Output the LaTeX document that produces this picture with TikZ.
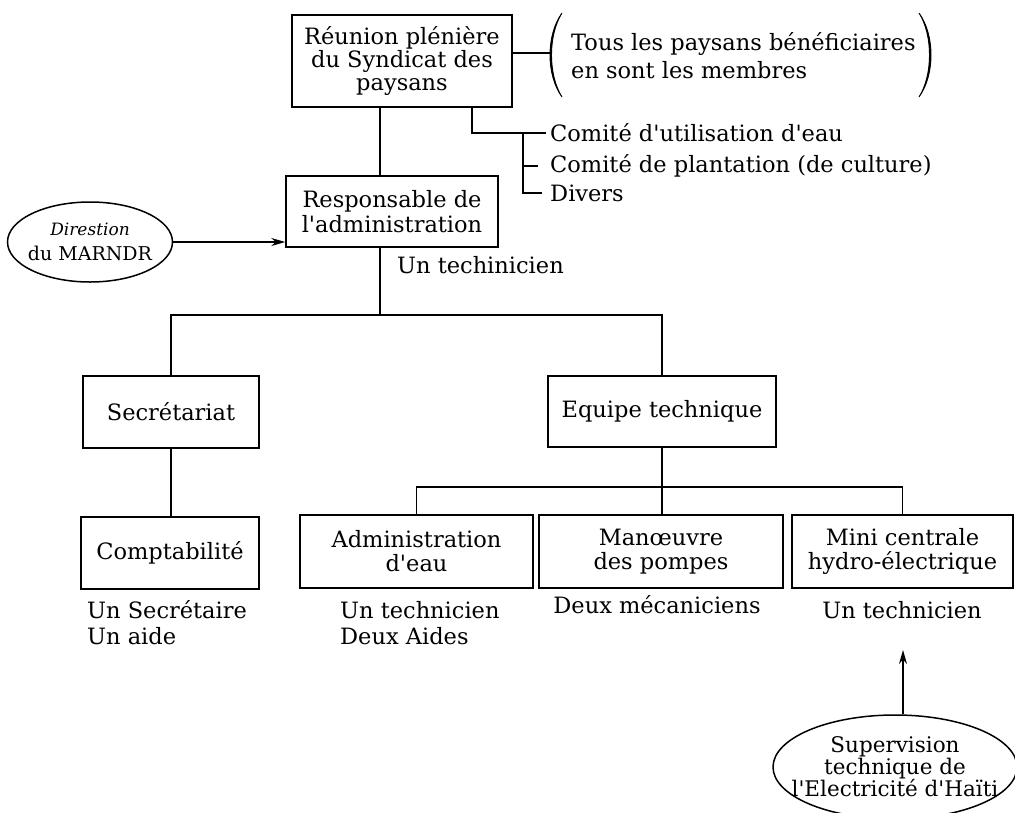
\documentclass[tikz,border=0pt]{standalone}
\usepackage{fontspec}
\setmainfont{DejaVu Serif}[Ligatures=TeXOff]
\usetikzlibrary{shapes.geometric,arrows.meta}
\begin{document}
\begin{tikzpicture}[x=1pt,y=-1pt,
  font=\fontsize{22.5}{23}\selectfont,
  box/.style={draw,line width=1.5pt,inner sep=0pt,align=center},
  ln/.style={line width=1.4pt},
  arr/.style={line width=1.4pt,-{Stealth[length=14pt,width=8pt]}},
  lbl/.style={inner sep=0pt,align=left},
  oval/.style={draw,ellipse,line width=1.5pt,inner ysep=0pt,align=center},
  paren/.style={fill,line width=0.9pt}]
\useasboundingbox (0,0) rectangle (1015,812);
% boxes
\node[box,minimum width=220pt,minimum height=92pt] (top) at (402,61) {Réunion plénière\\du Syndicat des\\paysans};
\node[box,minimum width=212pt,minimum height=71pt,font=\fontsize{22.5}{25}\selectfont] (resp) at (392,211.5) {Responsable de\\l'administration};
\node[box,minimum width=176pt,minimum height=72pt] (secr) at (171,412) {Secrétariat};
\node[box,minimum width=178pt,minimum height=72pt] (compt) at (170,553) {Comptabilité};
\node[box,minimum width=228pt,minimum height=71pt] (equipe) at (662,411.5) {Equipe technique};
\node[box,minimum width=233pt,minimum height=73pt,font=\fontsize{22.5}{24}\selectfont] (admin) at (416.5,551.5) {Administration\\d'eau};
\node[box,minimum width=244pt,minimum height=73pt,font=\fontsize{22.5}{24}\selectfont] (manoeuvre) at (661,551.5) {Manœuvre\\des pompes};
\node[box,minimum width=221pt,minimum height=73pt,font=\fontsize{22.5}{24}\selectfont] (mini) at (902.5,551.5) {Mini centrale\\hydro-électrique};
% ovals
\node[oval,inner xsep=-8pt,minimum width=165pt,minimum height=80pt,font=\fontsize{19}{25}\selectfont] (marndr) at (90,242) {{\itshape\fontsize{17}{25}\selectfont Direstion}\\du MARNDR};
\node[oval,inner xsep=-24pt,minimum width=244pt,minimum height=104pt,font=\fontsize{21.5}{21.5}\selectfont] (sup) at (895,767) {Supervision\\technique de\\l'Electricité d'Haïti};
% members text
\node[lbl,anchor=west,font=\fontsize{22.5}{28}\selectfont] (mem) at (571,56) {Tous les paysans bénéficiaires\\en sont les membres};
\coordinate (lp) at (550,53);
\draw[paren] (562,13) .. controls (546,35) and (546,75) .. (562,97) .. controls (548,75) and (548,35) .. (562,13);
\draw[paren] (919,13) .. controls (935,35) and (935,75) .. (919,97) .. controls (933,75) and (933,35) .. (919,13);
\draw[ln] (top.east |- lp) -- (lp);
% committees
\node[lbl,anchor=west] (c1) at (550,133) {Comité d'utilisation d'eau};
\node[lbl,anchor=west] (c2) at (550,166) {Comité de plantation (de culture)};
\node[lbl,anchor=west] (c3) at (550,193) {Divers};
\coordinate (b1) at (472,133);
\coordinate (b2) at (523,133);
\draw[ln] (top.south -| b1) -- (b1) -- ([xshift=-4pt]c1.west);
\draw[ln] (b2) -- (b2 |- c3.west) -- ([xshift=-8pt]c3.west);
\draw[ln] (b2 |- c2.west) -- ([xshift=-12pt]c2.west);
% labels
\node[lbl,anchor=west] (ut) at (397,265) {Un techinicien};
\node[lbl,anchor=west,font=\fontsize{22.5}{26}\selectfont] (l1) at (87,623) {Un Secrétaire\\Un aide};
\node[lbl,anchor=west,font=\fontsize{22.5}{26}\selectfont] (l2) at (340,623) {Un technicien\\Deux Aides};
\node[lbl] (l3) at (657,605) {Deux mécaniciens};
\node[lbl] (l4) at (902,610) {Un technicien};
% tree connectors
\coordinate (j1) at (380,315);
\draw[ln] (top.south -| j1) -- (resp.north -| j1);
\draw[ln] (resp.south -| j1) -- (j1);
\draw[ln] (secr.north) -- (secr.north |- j1) -- (equipe.north |- j1) -- (equipe.north);
\draw[ln] (secr.south) -- (secr.south |- compt.north);
\coordinate (j2) at (662,487);
\draw[ln] (equipe.south) -- (j2) -- (j2 |- manoeuvre.north);
\draw[ln] (admin.north) -- (admin.north |- j2) -- (mini.north |- j2) -- (mini.north);
% arrows
\draw[arr] (marndr.east) -- (resp.west |- marndr.east);
\coordinate (sa) at (903,650);
\draw[arr] (sup.north -| sa) -- (sa);
\end{tikzpicture}
\end{document}
